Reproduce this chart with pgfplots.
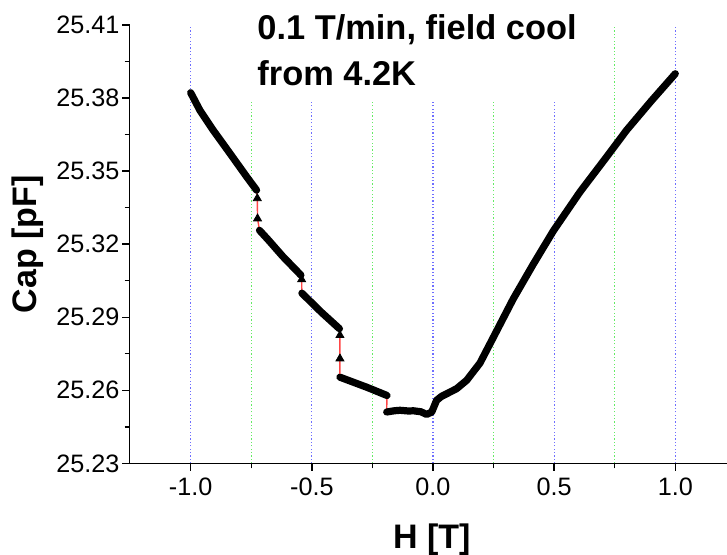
\documentclass[border=0pt]{standalone}
\usepackage{fontspec}
\setmainfont{Liberation Sans}
\usepackage{pgfplots}
\pgfplotsset{compat=1.18}
\usetikzlibrary{calc}
\definecolor{gridblue}{RGB}{110,110,255}
\definecolor{gridgreen}{RGB}{100,235,100}
\definecolor{jumpred}{RGB}{255,70,70}
\begin{document}
\begin{tikzpicture}
\begin{axis}[
  scale only axis, width=298.7pt, height=219.2pt,
  xmin=-1.252, xmax=1.2134, ymin=25.23, ymax=25.41,
  axis x line*=bottom, axis y line*=left,
  axis line style={line width=0.7pt, -},
  clip mode=individual,
  tick align=outside,
  xtick={-1,-0.5,0,0.5,1},
  minor xtick={-0.75,-0.25,0.25,0.75},
  ytick={25.23,25.26,25.29,25.32,25.35,25.38,25.41},
  minor ytick={25.245,25.275,25.305,25.335,25.365,25.395},
  major tick length=3.75pt, minor tick length=2.5pt,
  every tick/.style={black, line width=0.7pt},
  xmajorgrids, xminorgrids,
  major grid style={gridblue, line width=0.6pt, dash pattern=on 0.6pt off 1.1pt},
  minor grid style={gridgreen, line width=0.6pt, dash pattern=on 0.6pt off 1.1pt},
  scaled y ticks=false, scaled x ticks=false,
  /pgf/number format/assume math mode=true,
  xticklabel style={/pgf/number format/.cd, fixed, fixed zerofill, precision=1},
  yticklabel style={xshift=2.2pt, /pgf/number format/.cd, fixed, fixed zerofill, precision=2},
  ticklabel style={font=\fontsize{12.6}{14}\selectfont},
  xlabel={H [T]}, ylabel={Cap [pF]},
  label style={font=\bfseries\fontsize{17}{20}\selectfont},
  xlabel style={at={(axis description cs:0.506,-0.1950)}, anchor=base},
  ylabel style={at={(axis description cs:-0.170,0.5)}, anchor=center},
]
% red connecting line through all points
\addplot[jumpred, line width=0.7pt] coordinates {
(-1.000,25.3822) (-0.962,25.3750) (-0.907,25.3668) (-0.838,25.3573) (-0.769,25.3477) (-0.728,25.3422)
(-0.725,25.3388) (-0.724,25.3305)
(-0.716,25.3257) (-0.680,25.3218) (-0.620,25.3150) (-0.545,25.3073)
(-0.542,25.3055)
(-0.541,25.2999) (-0.460,25.2920) (-0.386,25.2853)
(-0.384,25.2826) (-0.384,25.2730)
(-0.384,25.2654) (-0.274,25.2613) (-0.190,25.2579)
(-0.191,25.2511) (-0.160,25.2516) (-0.136,25.2518) (-0.100,25.2515) (-0.081,25.2516) (-0.050,25.2512)
(-0.026,25.2501) (-0.005,25.2511) (0.015,25.2559) (0.035,25.2575) (0.057,25.2586) (0.098,25.2607)
(0.139,25.2641) (0.194,25.2712) (0.240,25.2800) (0.331,25.2975) (0.414,25.3118) (0.497,25.3255)
(0.607,25.3415) (0.717,25.3559) (0.799,25.3668) (0.900,25.3787) (1.000,25.3900)
};
% thick black segments
\addplot[black, line width=3.6pt, line cap=round, line join=round] coordinates {
(-1.000,25.3822) (-0.962,25.3750) (-0.907,25.3668) (-0.838,25.3573) (-0.769,25.3477) (-0.728,25.3422)
};
\addplot[black, line width=3.6pt, line cap=round, line join=round] coordinates {
(-0.716,25.3257) (-0.680,25.3218) (-0.620,25.3150) (-0.545,25.3073)
};
\addplot[black, line width=3.6pt, line cap=round, line join=round] coordinates {
(-0.541,25.2999) (-0.460,25.2920) (-0.386,25.2853)
};
\addplot[black, line width=3.6pt, line cap=round, line join=round] coordinates {
(-0.384,25.2654) (-0.274,25.2613) (-0.190,25.2579)
};
\addplot[black, line width=3.6pt, line cap=round, line join=round] coordinates {
(-0.191,25.2511) (-0.160,25.2516) (-0.136,25.2518) (-0.100,25.2515) (-0.081,25.2516) (-0.050,25.2512)
(-0.026,25.2501) (-0.005,25.2511) (0.015,25.2559) (0.035,25.2575) (0.057,25.2586) (0.098,25.2607)
(0.139,25.2641) (0.194,25.2712) (0.240,25.2800) (0.331,25.2975) (0.414,25.3118) (0.497,25.3255)
(0.607,25.3415) (0.717,25.3559) (0.799,25.3668) (0.900,25.3787) (1.000,25.3900)
};
% triangle markers at the jumps
\addplot[only marks, mark=triangle*, mark size=2.3pt, black] coordinates {
(-0.725,25.3388) (-0.724,25.3305) (-0.542,25.3055) (-0.384,25.2826) (-0.384,25.2730)
};
% title box
\fill[white] (rel axis cs:0.193,0.829) rectangle (rel axis cs:0.767,1.06);
\node[anchor=base west, inner sep=0pt, font=\bfseries\fontsize{17.2}{20}\selectfont] at (rel axis cs:0.2133,0.9658) {0.1 T/min, field cool};
\node[anchor=base west, inner sep=0pt, font=\bfseries\fontsize{17.2}{20}\selectfont] at (rel axis cs:0.2133,0.8631) {from 4.2K};
\end{axis}
\pgfresetboundingbox
\path ($(current axis.south west)+(-64.8pt,-45.35pt)$) rectangle ($(current axis.north east)+(0pt,12.5pt)$);
\end{tikzpicture}
\end{document}
